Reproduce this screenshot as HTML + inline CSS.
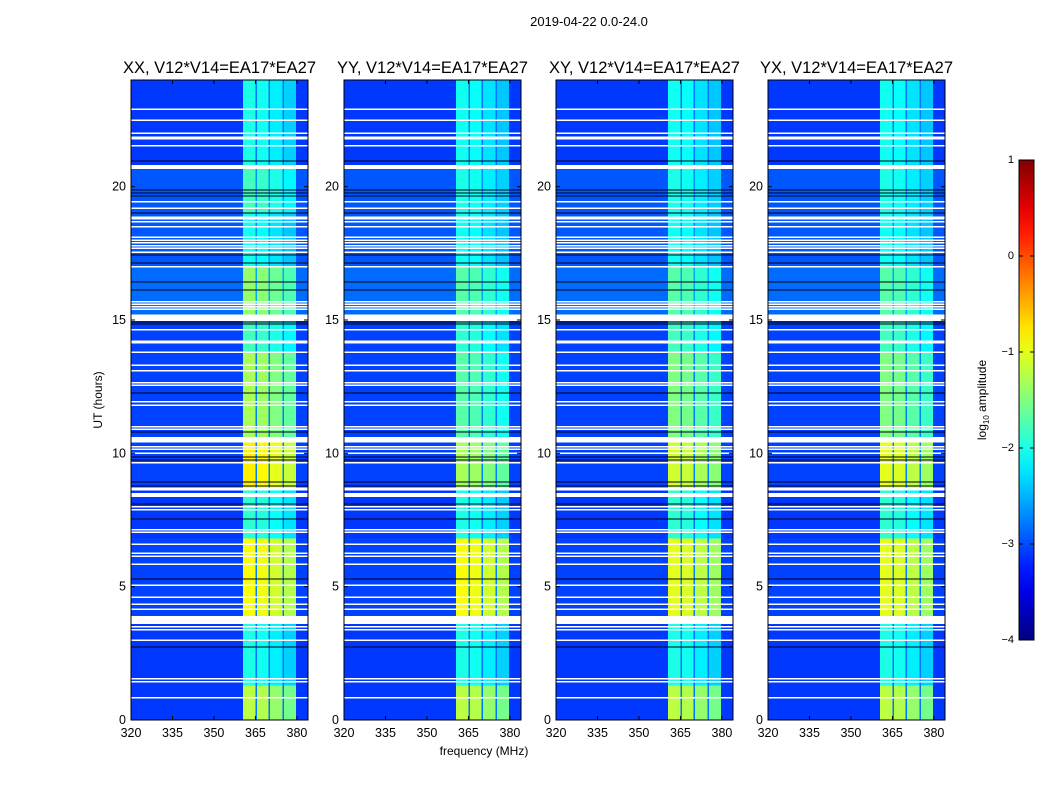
<!DOCTYPE html>
<html><head><meta charset="utf-8">
<style>
body{margin:0;background:#fff;}
svg{display:block;font-family:"Liberation Sans","DejaVu Sans",sans-serif;}
</style></head>
<body>
<svg id="fig" width="1050" height="800" viewBox="0 0 1050 800">
<rect width="1050" height="800" fill="#fff"/>
<text x="589" y="26" font-size="13" text-anchor="middle">2019-04-22 0.0-24.0</text>
<text x="484" y="755" font-size="12" text-anchor="middle">frequency (MHz)</text>
<text transform="translate(102,400) rotate(-90)" font-size="12" text-anchor="middle">UT (hours)</text>
<text transform="translate(986,400) rotate(-90)" font-size="12" text-anchor="middle">log<tspan font-size="8" dy="3">10</tspan><tspan dy="-3"> amplitude</tspan></text>
</svg>
<script>
const titles = ["XX, V12*V14=EA17*EA27","YY, V12*V14=EA17*EA27","XY, V12*V14=EA17*EA27","YX, V12*V14=EA17*EA27"];
const xTicks = [320,335,350,365,380];
const yTicks = [0,5,10,15,20];
const cbTicks = [1,0,-1,-2,-3,-4];
const cbLabels = ["1","0","\u22121","\u22122","\u22123","\u22124"];
const segStart = [0,1.3,3.9,6.8,8.6,10.6,13.8,15.2,17,19,20.8];
const segEnd   = [1.3,3.6,6.8,8.6,10.4,13.8,15,17,19,20.7,24];
const bandXX = [-1.2,-2.0,-0.9,-1.9,-0.8,-1.3,-1.8,-1.4,-2.05,-1.8,-2.0];
const bandYY = [-1.2,-2.0,-0.9,-2.0,-1.3,-1.7,-1.9,-1.7,-2.05,-2.0,-2.05];
const bandXY = [-1.2,-2.0,-1.0,-1.9,-1.1,-1.5,-1.8,-1.7,-2.05,-2.0,-2.05];
const bandYX = [-1.2,-2.0,-1.0,-1.9,-1.0,-1.5,-1.8,-1.7,-2.05,-2.0,-2.05];
const bgLevel = [-3.1,-3.1,-3.05,-3.1,-3.05,-3.05,-3.05,-2.85,-2.95,-2.95,-3.1];
const subStart = [360.5,365.5,370.2,375.3];
const subEnd   = [365.0,369.7,374.7,379.7];
const subOffset = [0.0,-0.05,-0.2,-0.35];
const whiteLines = [22.91,22.5,22.01,21.86,21.79,21.53,19.43,19.2,18.86,18.79,18.68,18.49,18.11,18.0,17.89,17.78,17.7,17.55,16.99,15.68,15.6,15.49,15.41,14.63,14.21,14.14,13.8,13.31,13.09,12.64,12.56,11.93,11.81,10.99,10.91,10.24,10.16,10.01,9.64,8.7,8.63,7.99,7.88,7.13,7.05,6.6,6.26,6.15,5.85,5.06,4.61,4.35,4.16,3.49,3.38,3.0,1.54,1.43,0.83];
const whiteBandStart = [20.66,14.96,10.46,8.36,3.68];
const whiteBandEnd   = [20.81,15.15,10.61,8.51,3.86];
const blackLines = [20.96,19.88,19.76,19.65,19.01,17.44,17.14,16.43,16.13,14.93,14.85,12.26,10.8,9.86,9.75,8.93,8.78,8.1,7.54,5.29,2.74];
const bands = [bandXX,bandYY,bandXY,bandYX];

const panelLeft = [131,344,556,768];
const panelW = 177, plotTop = 80, plotBottom = 720;
const fMin = 320, fMax = 384, tMin = 0, tMax = 24;
const vMin = -4, vMax = 1;
const NS = "http://www.w3.org/2000/svg";
const svgRoot = document.getElementById('fig');

function jet(v){
  let t = (v - vMin)/(vMax - vMin); t = Math.max(0,Math.min(1,t));
  const f = x => Math.round(255*Math.max(0,Math.min(1,x)));
  const r = f(1.5 - Math.abs(4*t-3)), g = f(1.5 - Math.abs(4*t-2)), b = f(1.5 - Math.abs(4*t-1));
  return `rgb(${r},${g},${b})`;
}
function el(tag, attrs){ const e=document.createElementNS(NS,tag); for(const k in attrs) e.setAttribute(k,attrs[k]); return e; }

for (let p=0;p<4;p++){
  const L = panelLeft[p];
  const xs = f => L + (f - fMin)/(fMax - fMin)*panelW;
  const ys = t => plotBottom - (t - tMin)/(tMax - tMin)*(plotBottom-plotTop);
  const g = el('g',{'shape-rendering':'crispEdges'});
  
  
  svgRoot.appendChild(g);
  for (let s=0;s<segStart.length;s++){
    const y1 = ys(segEnd[s]), y2 = ys(segStart[s]);
    const bg = el('rect',{x:xs(fMin),y:y1,width:xs(fMax)-xs(fMin),height:y2-y1,fill:jet(bgLevel[s])});
    
    
    g.appendChild(bg);
    const gapBg = el('rect',{x:xs(subStart[0]),y:y1,width:xs(subEnd[3])-xs(subStart[0]),height:y2-y1,fill:jet(bgLevel[s]+0.3)});
    
    
    g.appendChild(gapBg);
    for (let k=0;k<subStart.length;k++){
      const r = el('rect',{x:xs(subStart[k]),y:y1,width:xs(subEnd[k])-xs(subStart[k]),height:y2-y1,fill:jet(bands[p][s]+subOffset[k])});
      
      
      g.appendChild(r);
    }
  }
  for (const h of blackLines){
    const r = el('rect',{x:L,y:ys(h)-0.6,width:panelW,height:1.2,fill:'#000018'});
    
    
    g.appendChild(r);
  }
  for (const h of whiteLines){
    const r = el('rect',{x:L,y:ys(h)-0.7,width:panelW,height:1.5,fill:'#fff'});
    
    
    g.appendChild(r);
  }
  for (let i=0;i<whiteBandStart.length;i++){
    const r = el('rect',{x:L,y:ys(whiteBandEnd[i]),width:panelW,height:ys(whiteBandStart[i])-ys(whiteBandEnd[i]),fill:'#fff'});
    
    
    g.appendChild(r);
  }
  const frame = el('rect',{x:L,y:plotTop,width:panelW,height:plotBottom-plotTop,fill:'none',stroke:'#000','stroke-width':1});
  
  
  svgRoot.appendChild(frame);
  const tt = el('text',{x:L+panelW/2,y:73,'font-size':16.5,'text-anchor':'middle'});
  tt.textContent = titles[p];
  
  
  svgRoot.appendChild(tt);
  for (const f of xTicks){
    const x = xs(f);
    svgRoot.appendChild(el('line',{x1:x,x2:x,y1:plotBottom,y2:plotBottom-4,stroke:'#000'}));
    svgRoot.appendChild(el('line',{x1:x,x2:x,y1:plotTop,y2:plotTop+4,stroke:'#000'}));
    const t = el('text',{x:x,y:737,'font-size':12.5,'text-anchor':'middle'});
    t.textContent = f;
    
    
    svgRoot.appendChild(t);
  }
  for (const v of yTicks){
    const y = ys(v);
    svgRoot.appendChild(el('line',{x1:L,x2:L+4,y1:y,y2:y,stroke:'#000'}));
    svgRoot.appendChild(el('line',{x1:L+panelW,x2:L+panelW-4,y1:y,y2:y,stroke:'#000'}));
    const t = el('text',{x:L-5,y:y+4,'font-size':12.5,'text-anchor':'end'});
    t.textContent = v;
    
    
    svgRoot.appendChild(t);
  }
}

// colorbar
const cbX = 1019, cbW = 15, cbTop = 160, cbBot = 640;
const cby = v => cbBot - (v - vMin)/(vMax - vMin)*(cbBot-cbTop);
const defs = el('defs',{});
const grad = el('linearGradient',{id:'jetg',x1:0,y1:1,x2:0,y2:0});
for (let i=0;i<=20;i++){
  const v = vMin + (vMax-vMin)*i/20;
  grad.appendChild(el('stop',{offset:(i/20),'stop-color':jet(v)}));
}
defs.appendChild(grad); svgRoot.appendChild(defs);
const cb = el('rect',{x:cbX,y:cbTop,width:cbW,height:cbBot-cbTop,fill:'url(#jetg)',stroke:'#000','stroke-width':1});


svgRoot.appendChild(cb);
cbTicks.forEach((v,i)=>{
  const y = cby(v);
  svgRoot.appendChild(el('line',{x1:cbX,x2:cbX+4,y1:y,y2:y,stroke:'#000'}));
  svgRoot.appendChild(el('line',{x1:cbX+cbW,x2:cbX+cbW-4,y1:y,y2:y,stroke:'#000'}));
  const t = el('text',{x:cbX-5,y:y+3,'font-size':11,'text-anchor':'end'});
  t.textContent = cbLabels[i];
  
  
  svgRoot.appendChild(t);
});
</script>
</body></html>
